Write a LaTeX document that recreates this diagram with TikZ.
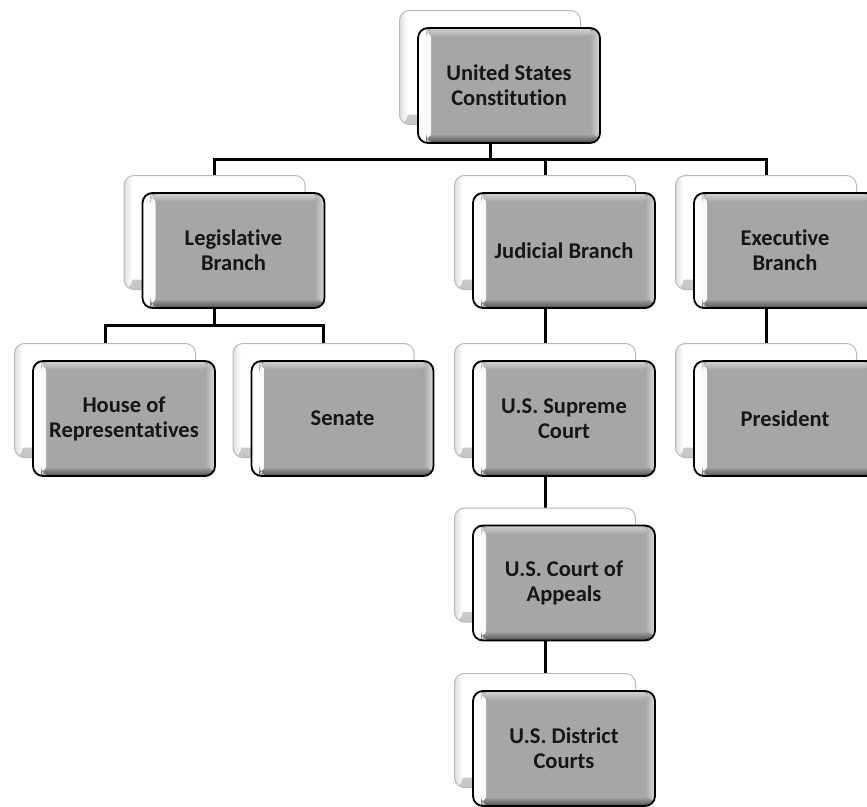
\documentclass[tikz,border=0pt]{standalone}
\usepackage{fontspec}
\setmainfont{Carlito}[Ligatures=NoCommon]
\usetikzlibrary{backgrounds}
\definecolor{boxgray}{RGB}{166,166,166}
\definecolor{txt}{RGB}{22,22,22}
\tikzset{
  frontbox/.style={draw=black, line width=1.8pt, rounded corners=10pt,
    minimum width=182pt, minimum height=115pt, inner sep=0pt,
    fill=boxgray, text=txt, align=center,
    font=\bfseries\fontsize{22.5}{25}\selectfont,
    path picture={
      \shade[left color=white, right color=boxgray]
        (path picture bounding box.south west) rectangle ([xshift=13pt]path picture bounding box.north west);
      \shade[left color=boxgray, right color=gray!30]
        ([xshift=-10pt]path picture bounding box.south east) rectangle (path picture bounding box.north east);
      \shade[top color=boxgray, bottom color=gray!60!black]
        ([xshift=8pt]path picture bounding box.south west) rectangle ([yshift=9pt]path picture bounding box.south east);
      \shade[top color=gray!35, bottom color=boxgray]
        ([yshift=-9pt,xshift=8pt]path picture bounding box.north west) rectangle ([xshift=-6pt]path picture bounding box.north east);
    }},
  backbox/.style={draw=gray!55, line width=1pt, rounded corners=10pt,
    minimum width=181pt, minimum height=114pt, inner sep=0pt, fill=white,
    path picture={
      \shade[top color=white, bottom color=gray!45]
        ([yshift=10pt]path picture bounding box.south west) rectangle (path picture bounding box.south east);
      \shade[left color=gray!25, right color=white]
        (path picture bounding box.south west) rectangle ([xshift=8pt]path picture bounding box.north west);
    }},
  conn/.style={draw=black, line width=3pt}
}
\newcommand\pairbox[4]{%
  \node[backbox] (#1b) at (#2-19,#3-18) {};
  \node[frontbox] (#1) at (#2,#3) {#4};
}
\begin{document}
\begin{tikzpicture}[x=1pt,y=-1pt]
\useasboundingbox (0,0) rectangle (867,806);

\pairbox{top}{509}{85.5}{United States\\Constitution}
\pairbox{leg}{233.5}{250.5}{Legislative\\Branch}
\pairbox{jud}{564}{250.5}{Judicial Branch}
\pairbox{exe}{785}{250.5}{Executive\\Branch}
\pairbox{house}{124}{418.5}{House of\\Representatives}
\pairbox{sen}{342.5}{418.5}{Senate}
\pairbox{sup}{564}{418.5}{U.S. Supreme\\Court}
\pairbox{pre}{785}{418.5}{President}
\pairbox{app}{564}{583}{U.S. Court of\\Appeals}
\pairbox{dis}{564}{748.5}{U.S. District\\Courts}

\begin{pgfonlayer}{background}
\fill[white] (0,0) rectangle (867,806);
\coordinate (j1) at (490,159);
\coordinate (j2) at (214.5,325);
\draw[conn] (topb.center) -- (j1);
\draw[conn] (legb.north) |- (j1);
\draw[conn] (judb.north) |- (j1);
\draw[conn] (exeb.north) |- (j1);
\draw[conn] (legb.center) -- (j2);
\draw[conn] (houseb.north) |- (j2);
\draw[conn] (senb.north) |- (j2);
\draw[conn] (judb.center) -- (supb.north);
\draw[conn] (supb.center) -- (appb.north);
\draw[conn] (appb.center) -- (disb.north);
\draw[conn] (exeb.center) -- (preb.north);
\end{pgfonlayer}
\end{tikzpicture}
\end{document}
